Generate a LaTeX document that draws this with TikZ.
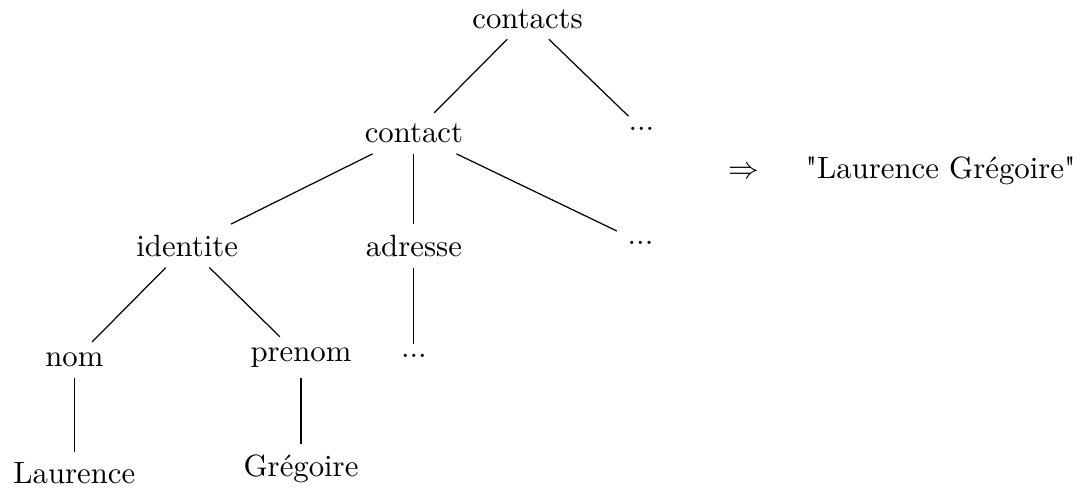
\documentclass[tikz,border=0pt]{standalone}
\usepackage{fontspec}
\usepackage{amsmath,amssymb}
\usepackage{tikz}
\usetikzlibrary{positioning, calc}
\tikzset{
	every node/.style={
		align=center,
	},
}
\tikzstyle{tree-name}=[rectangle, draw=none, anchor=base, text centered]
\tikzstyle{tree-dots}=[rectangle, draw=none, text centered]
\tikzstyle{tree-edge}=[-, black]

\begin{document}
\begin{tikzpicture}[]
    \useasboundingbox (0,0) rectangle (12.40,-5.566);

    \node (contacts) [tree-name] at (6.03,-0.32) {contacts};
    \node (contact) [tree-name] at (4.73,-1.63) {contact};
    \node (more1) [tree-dots] at (7.33,-1.47) {...};

    \node (identite) [tree-name] at (2.14,-2.93) {identite};
    \node (adresse) [tree-name] at (4.73,-2.93) {adresse};
    \node (more2) [tree-dots] at (7.32,-2.77) {...};

    \node (nom) [tree-name] at (0.85,-4.19) {nom};
    \node (prenom) [tree-name] at (3.44,-4.13) {prenom};
    \node (more3) [tree-dots] at (4.73,-4.07) {...};

    \node (laurence) [tree-name] at (0.85,-5.53) {Laurence};
    \node (gregoire) [tree-name] at (3.44,-5.45) {Grégoire};

    % result of the query
    \node (implies) [tree-name] at (8.50,-2.04) {$\Rightarrow$};
    \node (result) [tree-name] at (10.75,-2.04) {\textquotedbl Laurence Grégoire\textquotedbl};

    \draw[tree-edge] (contacts) -- (contact);
    \draw[tree-edge] (contacts) -- (more1);
    \draw[tree-edge] (contact) -- (identite);
    \draw[tree-edge] (contact) -- (adresse);
    \draw[tree-edge] (contact) -- (more2);
    \draw[tree-edge] (identite) -- (nom);
    \draw[tree-edge] (identite) -- (prenom);
    \draw[tree-edge] (adresse) -- (more3);
    \draw[tree-edge] (nom) -- (laurence);
    \draw[tree-edge] (prenom) -- (gregoire);
\end{tikzpicture}
\end{document}
